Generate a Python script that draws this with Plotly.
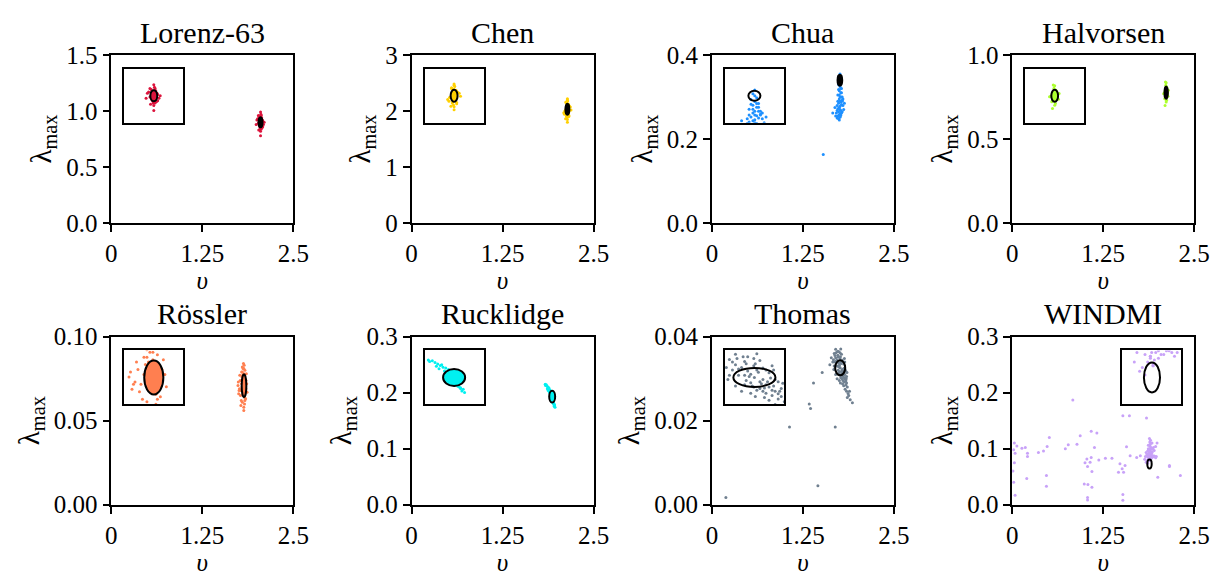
import plotly.graph_objects as go

# ---------------- data ----------------
names = ["Lorenz-63", "Chen", "Chua", "Halvorsen", "Rössler", "Rucklidge", "Thomas", "WINDMI"]
colors = ["#DC143C", "#FFD000", "#1E90FF", "#ADFF2F", "#FF7F50", "#00F0F0", "#708090", "#C8A2F8"]

x_ticks = [0, 1.25, 2.5]
x_tick_text = ["0", "1.25", "2.5"]
y_max = [1.5, 3, 0.4, 1.0, 0.1, 0.3, 0.04, 0.3]
y_ticks = [[0, 0.5, 1.0, 1.5], [0, 1, 2, 3], [0, 0.2, 0.4], [0, 0.5, 1.0],
           [0, 0.05, 0.10], [0, 0.1, 0.2, 0.3], [0, 0.02, 0.04], [0, 0.1, 0.2, 0.3]]
y_tick_text = [["0.0", "0.5", "1.0", "1.5"], ["0", "1", "2", "3"], ["0.0", "0.2", "0.4"],
               ["0.0", "0.5", "1.0"], ["0.00", "0.05", "0.10"], ["0.0", "0.1", "0.2", "0.3"],
               ["0.00", "0.02", "0.04"], ["0.0", "0.1", "0.2", "0.3"]]

lorenz_v = [2.05, 2.04, 2.06, 2.03, 2.07, 2.05, 2.02, 2.08, 2.045, 2.055, 2.035, 2.065, 2.05, 2.04,
            2.06, 2.01, 2.09, 2.05, 2.03, 2.07, 2.045, 2.055, 2.04, 2.06, 2.05, 1.99, 2.10, 2.025,
            2.075, 2.05, 2.035, 2.065, 2.02, 2.08, 2.05, 2.04, 2.06, 2.00, 2.05, 2.045]
lorenz_lam = [0.90, 0.92, 0.88, 0.95, 0.86, 0.93, 0.89, 0.91, 0.84, 0.97, 0.87, 0.94, 0.82, 0.90,
              0.91, 0.93, 0.88, 0.99, 0.90, 0.85, 0.92, 0.89, 0.86, 0.96, 0.91, 0.88, 0.90, 0.83,
              0.92, 0.87, 0.93, 0.89, 0.96, 0.86, 0.94, 0.91, 0.84, 0.92, 0.78, 0.90]

chen_v = [2.14, 2.13, 2.15, 2.12, 2.16, 2.14, 2.11, 2.17, 2.135, 2.145, 2.125, 2.155, 2.14, 2.13,
          2.15, 2.10, 2.18, 2.14, 2.12, 2.16, 2.135, 2.145, 2.13, 2.15, 2.14, 2.09, 2.19, 2.115,
          2.165, 2.14, 2.13, 2.15, 2.12, 2.16, 2.14, 2.105, 2.155, 2.14, 2.125, 2.145]
chen_lam = [2.03, 2.10, 1.96, 2.15, 1.92, 2.06, 2.00, 2.08, 1.88, 2.18, 1.98, 2.12, 1.85, 2.04,
            2.01, 1.94, 2.07, 2.22, 2.03, 1.90, 2.11, 1.99, 2.14, 1.95, 2.05, 1.97, 2.02, 1.86,
            2.09, 2.13, 1.93, 2.06, 2.16, 1.99, 1.80, 2.00, 2.04, 2.20, 1.91, 2.08]

chua_v = [1.76, 1.75, 1.77, 1.76, 1.74, 1.78, 1.75, 1.77, 1.76, 1.73, 1.79, 1.75, 1.76, 1.74,
          1.77, 1.72, 1.78, 1.75, 1.76, 1.73, 1.77, 1.74, 1.71, 1.76, 1.75, 1.78, 1.73, 1.76,
          1.72, 1.74, 1.77, 1.75, 1.70, 1.76, 1.73, 1.75, 1.74, 1.79, 1.72, 1.76, 1.66, 1.69, 1.53,
          1.78, 1.79, 1.80, 1.81, 1.77, 1.79, 1.80, 1.78, 1.82, 1.77]
chua_lam = [0.355, 0.345, 0.335, 0.325, 0.330, 0.320, 0.315, 0.310, 0.300, 0.305, 0.300, 0.295,
            0.290, 0.285, 0.288, 0.280, 0.282, 0.275, 0.270, 0.272, 0.268, 0.265, 0.262, 0.260,
            0.258, 0.262, 0.255, 0.252, 0.250, 0.248, 0.256, 0.245, 0.255, 0.278, 0.290, 0.305,
            0.318, 0.292, 0.268, 0.340, 0.262, 0.275, 0.163,
            0.300, 0.290, 0.280, 0.270, 0.260, 0.265, 0.295, 0.310, 0.285, 0.320]

halvorsen_v = [2.115, 2.105, 2.125, 2.11, 2.12, 2.10, 2.13, 2.115, 2.095, 2.135, 2.11, 2.12, 2.115,
               2.105, 2.125, 2.09, 2.14, 2.115, 2.10, 2.13, 2.11, 2.12, 2.115, 2.08, 2.145, 2.105,
               2.125, 2.115, 2.10, 2.13]
halvorsen_lam = [0.776, 0.79, 0.76, 0.80, 0.75, 0.785, 0.77, 0.81, 0.74, 0.78, 0.82, 0.73, 0.795,
                 0.765, 0.805, 0.775, 0.755, 0.835, 0.70, 0.78, 0.745, 0.81, 0.72, 0.77, 0.79,
                 0.84, 0.76, 0.80, 0.75, 0.785]

rossler_v = [1.823, 1.81, 1.835, 1.80, 1.845, 1.82, 1.79, 1.85, 1.815, 1.83, 1.805, 1.84, 1.825,
             1.795, 1.855, 1.82, 1.81, 1.835, 1.78, 1.86, 1.815, 1.83, 1.80, 1.845, 1.82, 1.77,
             1.76, 1.75, 1.74, 1.785, 1.765, 1.775, 1.745, 1.755, 1.79, 1.825, 1.81, 1.84, 1.80,
             1.83, 1.815, 1.85, 1.795, 1.835, 1.82, 1.805, 1.865, 1.78, 1.84, 1.81]
rossler_lam = [0.071, 0.075, 0.067, 0.079, 0.063, 0.081, 0.072, 0.069, 0.084, 0.060, 0.077, 0.074,
               0.065, 0.070, 0.078, 0.058, 0.073, 0.080, 0.068, 0.072, 0.076, 0.064, 0.082, 0.070,
               0.056, 0.074, 0.069, 0.066, 0.071, 0.062, 0.077, 0.065, 0.073, 0.068, 0.079, 0.083,
               0.066, 0.075, 0.061, 0.072, 0.069, 0.074, 0.076, 0.062, 0.078, 0.070, 0.067, 0.059,
               0.071, 0.081]

rucklidge_v = [1.931, 1.92, 1.94, 1.91, 1.95, 1.925, 1.935, 1.90, 1.945, 1.915, 1.93, 1.88, 1.955,
               1.92, 1.94, 1.86, 1.965, 1.895, 1.935, 1.925, 1.87, 1.95, 1.905, 1.93, 1.85, 1.96,
               1.92, 1.84, 1.945, 1.89, 1.93, 1.915, 1.955, 1.925, 1.835, 1.97, 1.94, 1.875, 1.945,
               1.91, 1.865, 1.885, 1.935, 1.95]
rucklidge_lam = [0.193, 0.198, 0.189, 0.203, 0.185, 0.195, 0.191, 0.205, 0.184, 0.200, 0.188,
                 0.208, 0.180, 0.196, 0.186, 0.212, 0.178, 0.201, 0.183, 0.192, 0.210, 0.181,
                 0.199, 0.187, 0.214, 0.176, 0.194, 0.213, 0.182, 0.206, 0.190, 0.197, 0.179,
                 0.188, 0.215, 0.174, 0.186, 0.204, 0.195, 0.200, 0.207, 0.209, 0.196, 0.190]

thomas_v = [1.762, 1.74, 1.78, 1.72, 1.80, 1.75, 1.77, 1.70, 1.79, 1.73, 1.81, 1.76, 1.68, 1.82,
            1.745, 1.775, 1.71, 1.83, 1.765, 1.69, 1.84, 1.755, 1.785, 1.725, 1.795, 1.735, 1.815,
            1.67, 1.85, 1.76, 1.80, 1.82, 1.84, 1.86, 1.83, 1.85, 1.87, 1.81, 1.79, 1.88, 1.86,
            1.90, 1.89, 1.93, 1.66, 1.64, 1.62, 1.70, 1.73, 1.75, 1.78, 1.805, 1.825, 1.845, 1.77,
            1.68, 1.70, 1.72, 1.74, 1.76, 1.78, 1.80, 1.82, 1.84, 1.69, 1.71, 1.73, 1.75, 1.77,
            1.79, 1.81, 1.83, 1.85, 1.675, 1.705, 1.735, 1.765, 1.795, 1.825, 1.855,
            1.396, 1.515, 1.337, 1.355, 1.066, 1.694, 1.456, 0.192]
thomas_lam = [0.0326, 0.0338, 0.0318, 0.0345, 0.0312, 0.0332, 0.0340, 0.0350, 0.0322, 0.0356,
              0.0308, 0.0348, 0.0360, 0.0302, 0.0328, 0.0336, 0.0342, 0.0300, 0.0352, 0.0355,
              0.0295, 0.0310, 0.0314, 0.0365, 0.0306, 0.0320, 0.0325, 0.0345, 0.0290, 0.0362,
              0.0296, 0.0292, 0.0285, 0.0280, 0.0275, 0.0270, 0.0265, 0.0283, 0.0300, 0.0260,
              0.0255, 0.0250, 0.0270, 0.0243, 0.0340, 0.0350, 0.0333, 0.0370, 0.0330, 0.0316,
              0.0305, 0.0318, 0.0310, 0.0300, 0.0371,
              0.0330, 0.0310, 0.0300, 0.0365, 0.0308, 0.0358, 0.0340, 0.0348, 0.0318, 0.0340,
              0.0330, 0.0312, 0.0296, 0.0302, 0.0344, 0.0335, 0.0322, 0.0305, 0.0322, 0.0362,
              0.0352, 0.0290, 0.0288, 0.0340, 0.0315,
              0.0290, 0.0315, 0.0240, 0.0229, 0.0185, 0.0185, 0.0045, 0.0017]

windmi_v = [1.89, 1.88, 1.90, 1.87, 1.91, 1.89, 1.86, 1.92, 1.885, 1.895, 1.875, 1.905, 1.89, 1.88,
            1.90, 1.85, 1.93, 1.89, 1.87, 1.91, 1.86, 1.92, 1.88, 1.90, 1.84, 1.94, 1.895, 1.885,
            1.91, 1.87, 1.83, 1.95, 1.89, 1.90, 1.88, 1.82, 1.97, 1.86, 1.92, 1.99,
            1.90, 1.92, 1.94, 1.96, 1.88, 1.91, 1.93, 1.95, 1.87, 1.89, 1.98, 1.85, 1.84, 1.97,
            1.86,
            0.833, 1.52, 1.61, 1.845, 1.085, 1.163, 0.51, 0.934, 0.064, 0.133, 0.18, 0.03, 0.02,
            0.04, 0.21, 0.21, 0.36, 0.43, 0.48, 0.77, 0.89, 1.13, 1.026, 1.085, 1.07, 1.19, 1.035,
            1.095, 1.37, 1.48, 1.55, 1.51, 1.62, 1.71, 1.76, 1.57, 2.16, 2.0, 2.31, 0.2, 0.47,
            0.47, 0.99, 1.04, 1.095, 1.035, 1.035, 1.52, 1.46, 0.02, 0.04, 0.03, 0.01, 0.73, 1.00,
            1.28, 1.53, 1.52, 2.16]
windmi_lam = [0.095, 0.092, 0.098, 0.088, 0.101, 0.105, 0.090, 0.094, 0.086, 0.108, 0.097, 0.091,
              0.112, 0.083, 0.103, 0.089, 0.099, 0.080, 0.100, 0.087, 0.096, 0.110, 0.084, 0.115,
              0.093, 0.102, 0.082, 0.118, 0.090, 0.106, 0.086, 0.097, 0.079, 0.089, 0.099, 0.081,
              0.104, 0.085, 0.093, 0.110,
              0.086, 0.085, 0.087, 0.086, 0.084, 0.083, 0.085, 0.087, 0.081, 0.079, 0.086, 0.078,
              0.076, 0.084, 0.074,
              0.187, 0.159, 0.159, 0.155, 0.131, 0.128, 0.120, 0.123, 0.105, 0.101, 0.102, 0.110,
              0.098, 0.092, 0.092, 0.086, 0.093, 0.096, 0.104, 0.107, 0.108, 0.102, 0.0815, 0.0845,
              0.0756, 0.0798, 0.068, 0.0595, 0.083, 0.073, 0.070, 0.064, 0.0875, 0.0845, 0.0875,
              0.1036, 0.068, 0.049, 0.052, 0.047, 0.052, 0.033, 0.037, 0.036, 0.031, 0.013, 0.0084,
              0.018, 0.058, 0.040, 0.017, 0.075, 0.060, 0.100, 0.075, 0.083, 0.058, 0.008, 0.070]

all_v = [lorenz_v, chen_v, chua_v, halvorsen_v, rossler_v, rucklidge_v, thomas_v, windmi_v]
all_lam = [lorenz_lam, chen_lam, chua_lam, halvorsen_lam, rossler_lam, rucklidge_lam, thomas_lam,
           windmi_lam]

# covariance ellipse: centre and semi-axes
ell_cx = [2.05, 2.14, 1.758, 2.115, 1.823, 1.931, 1.762, 1.886]
ell_cy = [0.90, 2.03, 0.340, 0.776, 0.0708, 0.193, 0.0326, 0.0727]
ell_rx = [0.027, 0.027, 0.032, 0.023, 0.032, 0.041, 0.069, 0.030]
ell_ry = [0.045, 0.098, 0.013, 0.036, 0.00685, 0.0107, 0.0018, 0.008]
# inset zoom half-widths
inset_hx = [0.23, 0.23, 0.157, 0.20, 0.099, 0.11, 0.097, 0.11]
inset_hy = [0.22, 0.44, 0.070, 0.16, 0.0109, 0.034, 0.0051, 0.0144]
inset_right = [False, False, False, False, False, False, False, True]
fill_inset = [True, True, False, True, True, True, False, False]
# fill of the small ellipse in the main panel
fill_main = ["black", "black", "black", "black", "series", "series", "none", "none"]

# ---------------- layout ----------------
W, H = 1213, 576
FONT = "Liberation Serif"
col_left = [111.3, 411.6, 711.9, 1012.2]
row_top = [55.0, 336.7]
AW, AH = 182.0, 168.0

fig = go.Figure()
layout = dict(width=W, height=H, margin=dict(l=0, r=0, t=0, b=0, pad=0, autoexpand=False),
              paper_bgcolor="white", plot_bgcolor="white", showlegend=False,
              font=dict(family=FONT, size=25, color="black"))
shapes = []
annotations = []

for i in range(8):
    r, c = divmod(i, 4)
    L = col_left[c]
    T = row_top[r]
    xd = [L / W, (L + AW) / W]
    yd = [1 - (T + AH) / H, 1 - T / H]
    m = i + 1
    n = i + 9
    mx, my = f"x{m}", f"y{m}"
    nx, ny = f"x{n}", f"y{n}"

    layout[f"xaxis{m}"] = dict(domain=xd, anchor=my, range=[0, 2.5], tickvals=x_ticks,
                               ticktext=x_tick_text, ticks="outside", ticklen=7, tickwidth=1.6,
                               tickcolor="black", showline=True, linecolor="black", linewidth=1.6,
                               mirror=True, showgrid=False, zeroline=False, automargin=False,
                               tickfont=dict(size=25, family=FONT),
                               title=dict(text="<i>υ</i>", font=dict(size=25, family=FONT),
                                          standoff=6))
    layout[f"yaxis{m}"] = dict(domain=yd, anchor=mx, range=[0, y_max[i]], tickvals=y_ticks[i],
                               ticktext=y_tick_text[i], ticks="outside", ticklen=7, tickwidth=1.6,
                               tickcolor="black", showline=True, linecolor="black", linewidth=1.6,
                               mirror=True, showgrid=False, zeroline=False, automargin=False,
                               tickfont=dict(size=25, family=FONT),
                               title=dict(text="λ<sub>max</sub>", font=dict(size=29, family=FONT),
                                          standoff=6))

    # inset placement (axes fraction)
    if inset_right[i]:
        fx = [0.606, 0.930]
    else:
        fx = [0.071, 0.396]
    fy = [0.597, 0.918]
    ixd = [(L + fx[0] * AW) / W, (L + fx[1] * AW) / W]
    iyd = [1 - (T + (1 - fy[0]) * AH) / H, 1 - (T + (1 - fy[1]) * AH) / H]
    layout[f"xaxis{n}"] = dict(domain=ixd, anchor=ny,
                               range=[ell_cx[i] - inset_hx[i], ell_cx[i] + inset_hx[i]],
                               showticklabels=False, ticks="", showgrid=False, zeroline=False,
                               showline=True, linecolor="black", linewidth=1.6, mirror=True)
    layout[f"yaxis{n}"] = dict(domain=iyd, anchor=nx,
                               range=[ell_cy[i] - inset_hy[i], ell_cy[i] + inset_hy[i]],
                               showticklabels=False, ticks="", showgrid=False, zeroline=False,
                               showline=True, linecolor="black", linewidth=1.6, mirror=True)

    for ax, ay in ((mx, my), (nx, ny)):
        fig.add_trace(go.Scatter(x=all_v[i], y=all_lam[i], mode="markers", xaxis=ax, yaxis=ay,
                                 marker=dict(size=3, color=colors[i], line=dict(width=0)),
                                 hoverinfo="skip", cliponaxis=True))

    main_fill = fill_main[i]
    if main_fill == "series":
        main_fill = colors[i]
    elif main_fill == "none":
        main_fill = "rgba(0,0,0,0)"
    inset_fill = colors[i] if fill_inset[i] else "rgba(0,0,0,0)"
    for ax, ay, fc in ((mx, my, main_fill), (nx, ny, inset_fill)):
        shapes.append(dict(type="circle", xref=ax, yref=ay, layer="above",
                           x0=ell_cx[i] - ell_rx[i], x1=ell_cx[i] + ell_rx[i],
                           y0=ell_cy[i] - ell_ry[i], y1=ell_cy[i] + ell_ry[i],
                           line=dict(color="black", width=2), fillcolor=fc))

    annotations.append(dict(text=names[i], xref="paper", yref="paper",
                            x=(xd[0] + xd[1]) / 2, y=1 - (T - 23) / H,
                            xanchor="center", yanchor="middle", showarrow=False,
                            font=dict(size=30, family=FONT, color="black")))

layout["shapes"] = shapes
layout["annotations"] = annotations
fig.update_layout(**layout)
fig.write_html("out.html")
